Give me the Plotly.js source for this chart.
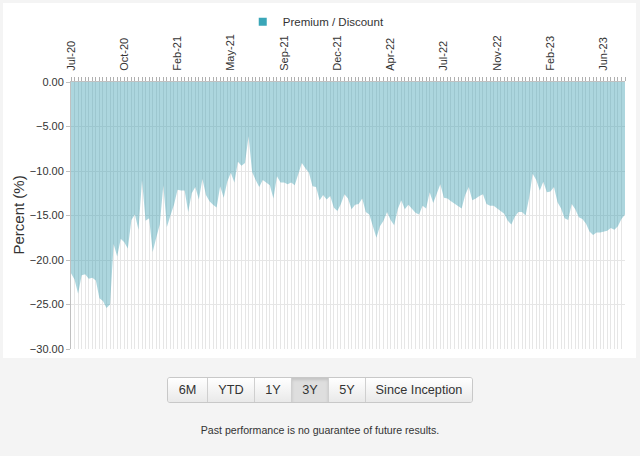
<!DOCTYPE html>
<html>
<head>
<meta charset="utf-8">
<script src="https://cdn.plot.ly/plotly-3.0.1.min.js"></script>
<style>
  html, body { margin: 0; padding: 0; background: #f4f4f4; width: 640px; height: 456px; overflow: hidden; font-family: "Liberation Sans", Arial, sans-serif; }
  #card { position: absolute; left: 3px; top: 3px; width: 633px; height: 355px; background: #ffffff; }
  #chart { width: 633px; height: 355px; }
  #btns { position: absolute; left: 167px; top: 377px; height: 26px; display: flex; border: 1px solid #c8c8c8; border-radius: 3px; overflow: hidden; box-sizing: border-box; }
  #btns div { height: 24px; line-height: 24px; text-align: center; font-size: 12.7px; color: #333; background: linear-gradient(#ffffff, #e9e9e9); border-right: 1px solid #cfcfcf; box-sizing: border-box; }
  #btns div:last-child { border-right: none; }
  #btns div.active { background: #dedede; box-shadow: inset 0 2px 3px rgba(0,0,0,0.12); }
  #note { position: absolute; left: 0; width: 640px; top: 424px; text-align: center; font-size: 10.6px; color: #333; }
</style>
</head>
<body>
<div id="card"><div id="chart"></div></div>
<div id="btns">
  <div style="width:40px">6M</div>
  <div style="width:47px">YTD</div>
  <div style="width:37px">1Y</div>
  <div style="width:37px" class="active">3Y</div>
  <div style="width:37px">5Y</div>
  <div style="width:106px">Since Inception</div>
</div>
<div id="note">Past performance is no guarantee of future results.</div>
<script>
// Weekly premium / discount (%) values, Jul-2020 .. Jul-2023
const premiumDiscount = [
  -21.5, -22.2, -23.8, -21.7, -21.6, -22.1, -22.0, -22.3, -24.3, -24.6,
  -25.4, -25.0, -18.2, -19.6, -17.6, -18.0, -18.7, -15.5, -14.9, -16.6,
  -11.0, -15.6, -15.3, -19.1, -17.5, -16.0, -11.6, -16.3, -15.0, -13.8,
  -12.1, -12.2, -12.2, -14.6, -12.5, -11.8, -13.2, -10.9, -12.7, -13.4,
  -13.8, -14.1, -11.7, -13.0, -11.2, -10.2, -11.3, -8.95, -9.4, -9.1,
  -6.1, -10.1, -11.0, -11.8, -11.0, -11.3, -11.6, -13.1, -10.6, -11.3,
  -11.3, -11.5, -11.3, -11.6, -10.3, -9.1, -9.7, -10.2, -11.7, -11.8,
  -13.3, -12.7, -13.2, -12.8, -14.1, -14.5, -13.7, -12.6, -13.1, -14.3,
  -13.8, -13.7, -13.1, -14.6, -14.9, -16.3, -17.5, -16.2, -15.6, -14.6,
  -15.5, -16.1, -14.3, -13.3, -14.3, -13.8, -14.2, -14.7, -14.9, -13.9,
  -14.2, -12.4, -13.6, -12.5, -11.5, -13.0, -13.1, -13.4, -13.7, -14.0,
  -14.2, -12.7, -11.8, -13.3, -13.1, -12.8, -12.6, -13.7, -13.9, -13.9,
  -14.2, -14.5, -14.8, -15.6, -16.0, -15.1, -14.6, -14.6, -15.0, -13.0,
  -10.3, -11.0, -12.2, -11.2, -12.4, -12.3, -11.8, -13.5, -14.2, -15.3,
  -15.5, -13.7, -14.3, -15.2, -15.4, -15.9, -16.8, -17.2, -16.9, -16.9,
  -16.8, -16.7, -16.4, -16.6, -16.2, -15.4, -14.9
];
// Axis labels shown every 15 weeks
const tickLabels = ['Jul-20', 'Oct-20', 'Feb-21', 'May-21', 'Sep-21', 'Dec-21', 'Apr-22', 'Jul-22', 'Nov-22', 'Feb-23', 'Jun-23'];
const labelStep = 15;
const seriesName = 'Premium / Discount';
const yTitle = 'Percent (%)';

const weeks = premiumDiscount.map((_, i) => i);
const tickText = weeks.map(i => (i % labelStep === 0 && tickLabels[i / labelStep]) ? tickLabels[i / labelStep] : '');

const traces = [
  {
    x: weeks, y: premiumDiscount, type: 'scatter', mode: 'lines',
    fill: 'tozeroy', fillcolor: 'rgba(47,152,172,0.40)',
    line: { width: 0, color: 'rgba(47,152,172,0.4)' },
    showlegend: false, hoverinfo: 'x+y'
  },
  {
    x: [null], y: [null], type: 'scatter', mode: 'markers', name: seriesName,
    marker: { symbol: 'square', size: 8, color: '#3aa6b8' }, showlegend: true
  }
];

const layout = {
  width: 633, height: 355,
  margin: { l: 68, r: 11, t: 79, b: 9 },
  paper_bgcolor: '#ffffff', plot_bgcolor: '#ffffff',
  font: { family: '"Liberation Sans", Arial, sans-serif', color: '#333333', size: 11 },
  showlegend: true,
  legend: { orientation: 'h', x: 0.31, xanchor: 'left', xref: 'paper', y: 0.947, yanchor: 'middle', yref: 'container',
            font: { size: 11.5, color: '#333333' }, bgcolor: 'rgba(0,0,0,0)' },
  xaxis: {
    side: 'top', range: [0, weeks.length - 1], tickmode: 'array',
    tickvals: weeks, ticktext: tickText, tickangle: -90, automargin: false,
    ticks: 'outside', ticklen: 4, tickcolor: '#b0b0b0', tickwidth: 1, ticklabelstandoff: 4,
    showgrid: true, gridcolor: '#e6e6e6', gridwidth: 1,
    showline: true, linecolor: '#c0c0c0', zeroline: false,
    tickfont: { size: 11, color: '#333333' }, fixedrange: true
  },
  yaxis: {
    range: [-30, 0], tickmode: 'linear', tick0: 0, dtick: 5, tickformat: '.2f',
    ticks: 'outside', ticklen: 4, tickcolor: '#c0c0c0', automargin: false,
    showgrid: true, gridcolor: '#e6e6e6', zeroline: false,
    showline: true, linecolor: '#c0c0c0',
    tickfont: { size: 11, color: '#333333' },
    fixedrange: true
  },
  annotations: [
    { text: yTitle, xref: 'paper', yref: 'paper', x: 0, y: 0.5, xanchor: 'center', yanchor: 'middle',
      xshift: -53, textangle: -90, showarrow: false, font: { size: 15, color: '#333333' } }
  ]
};

Plotly.newPlot('chart', traces, layout, { displayModeBar: false, staticPlot: true });
</script>
</body>
</html>
